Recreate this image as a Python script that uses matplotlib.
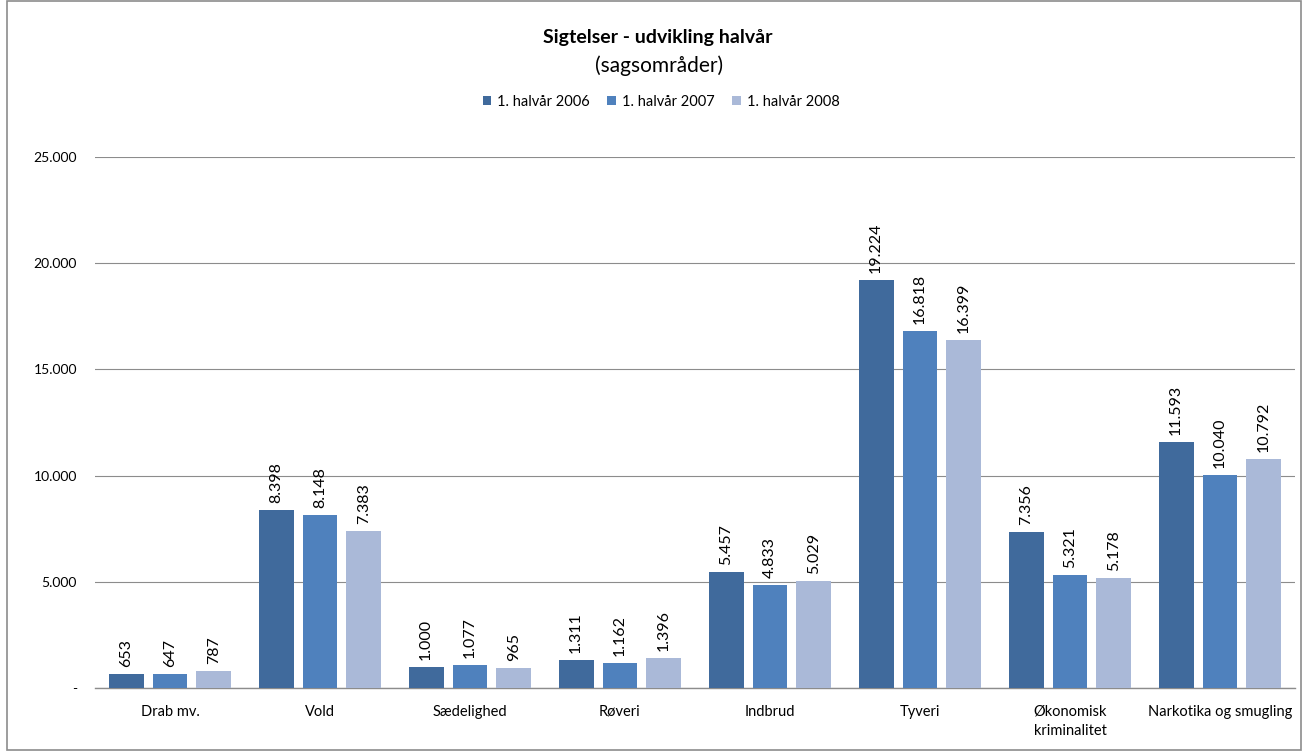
import matplotlib
matplotlib.use("Agg")
import matplotlib.pyplot as plt
from matplotlib.patches import Rectangle
from matplotlib.ticker import FuncFormatter
import numpy as np

plt.rcParams['font.family'] = ['Lato', 'DejaVu Sans']

categories = ["Drab mv.", "Vold", "Sædelighed", "Røveri", "Indbrud", "Tyveri",
              "Økonomisk\nkriminalitet", "Narkotika og smugling"]
series_names = ["1. halvår 2006", "1. halvår 2007", "1. halvår 2008"]
v2006 = [653, 8398, 1000, 1311, 5457, 19224, 7356, 11593]
v2007 = [647, 8148, 1077, 1162, 4833, 16818, 5321, 10040]
v2008 = [787, 7383, 965, 1396, 5029, 16399, 5178, 10792]
colors = ["#406A9C", "#4F81BD", "#AAB9D8"]

fig = plt.figure(figsize=(13.03, 7.52), dpi=100)
ax = fig.add_axes([95/1303, 64/752, 1200/1303, 531/752])

x = np.arange(len(categories))
bw = 0.233
step = 0.293
for i, (vals, name, c) in enumerate(zip([v2006, v2007, v2008], series_names, colors)):
    pos = x + (i - 1) * step
    ax.bar(pos, vals, width=bw, color=c, label=name, zorder=3)
    for p, v in zip(pos, vals):
        lab = f"{v:,}".replace(",", ".")
        ax.annotate(lab, (p, v), xytext=(0, 5), textcoords="offset points",
                    rotation=90, ha="center", va="bottom", fontsize=11.5, color="#000000")

ax.set_xlim(-0.5, len(categories) - 0.5)
ax.set_ylim(0, 25000)
ax.set_yticks(np.arange(0, 25001, 5000))
ax.yaxis.set_major_formatter(FuncFormatter(lambda v, p: "-" if v == 0 else f"{int(v):,}".replace(",", ".")))
ax.set_xticks(x)
ax.set_xticklabels(categories, fontsize=10.5, linespacing=1.5)
ax.tick_params(axis='y', length=0, pad=13, labelsize=10)
ax.tick_params(axis='x', length=0, pad=12)
ax.grid(axis='y', color="#8C8C8C", linewidth=0.8, zorder=0)
for s in ["left", "right", "top"]:
    ax.spines[s].set_visible(False)
ax.spines["bottom"].set_color("#8C8C8C")
ax.spines["bottom"].set_linewidth(1.0)

fig.text(658/1303, 1 - 38/752, "Sigtelser - udvikling halvår", ha="center", va="center",
         fontsize=14, fontweight="bold")
fig.text(659/1303, 1 - 66/752, "(sagsområder)", ha="center", va="center", fontsize=15)

leg = fig.legend(loc="center", bbox_to_anchor=(661/1303, 1 - 102/752), ncol=3, frameon=False,
                 fontsize=10.5, handlelength=0.6, handleheight=0.6, handletextpad=0.4,
                 columnspacing=1.2)

fig.patches.append(Rectangle((7/1303, 2/752), 1294/1303, 749/752, transform=fig.transFigure,
                             fill=False, edgecolor="#8C8C8C", linewidth=1.2))

fig.savefig("out.png", dpi=100, facecolor="white")
